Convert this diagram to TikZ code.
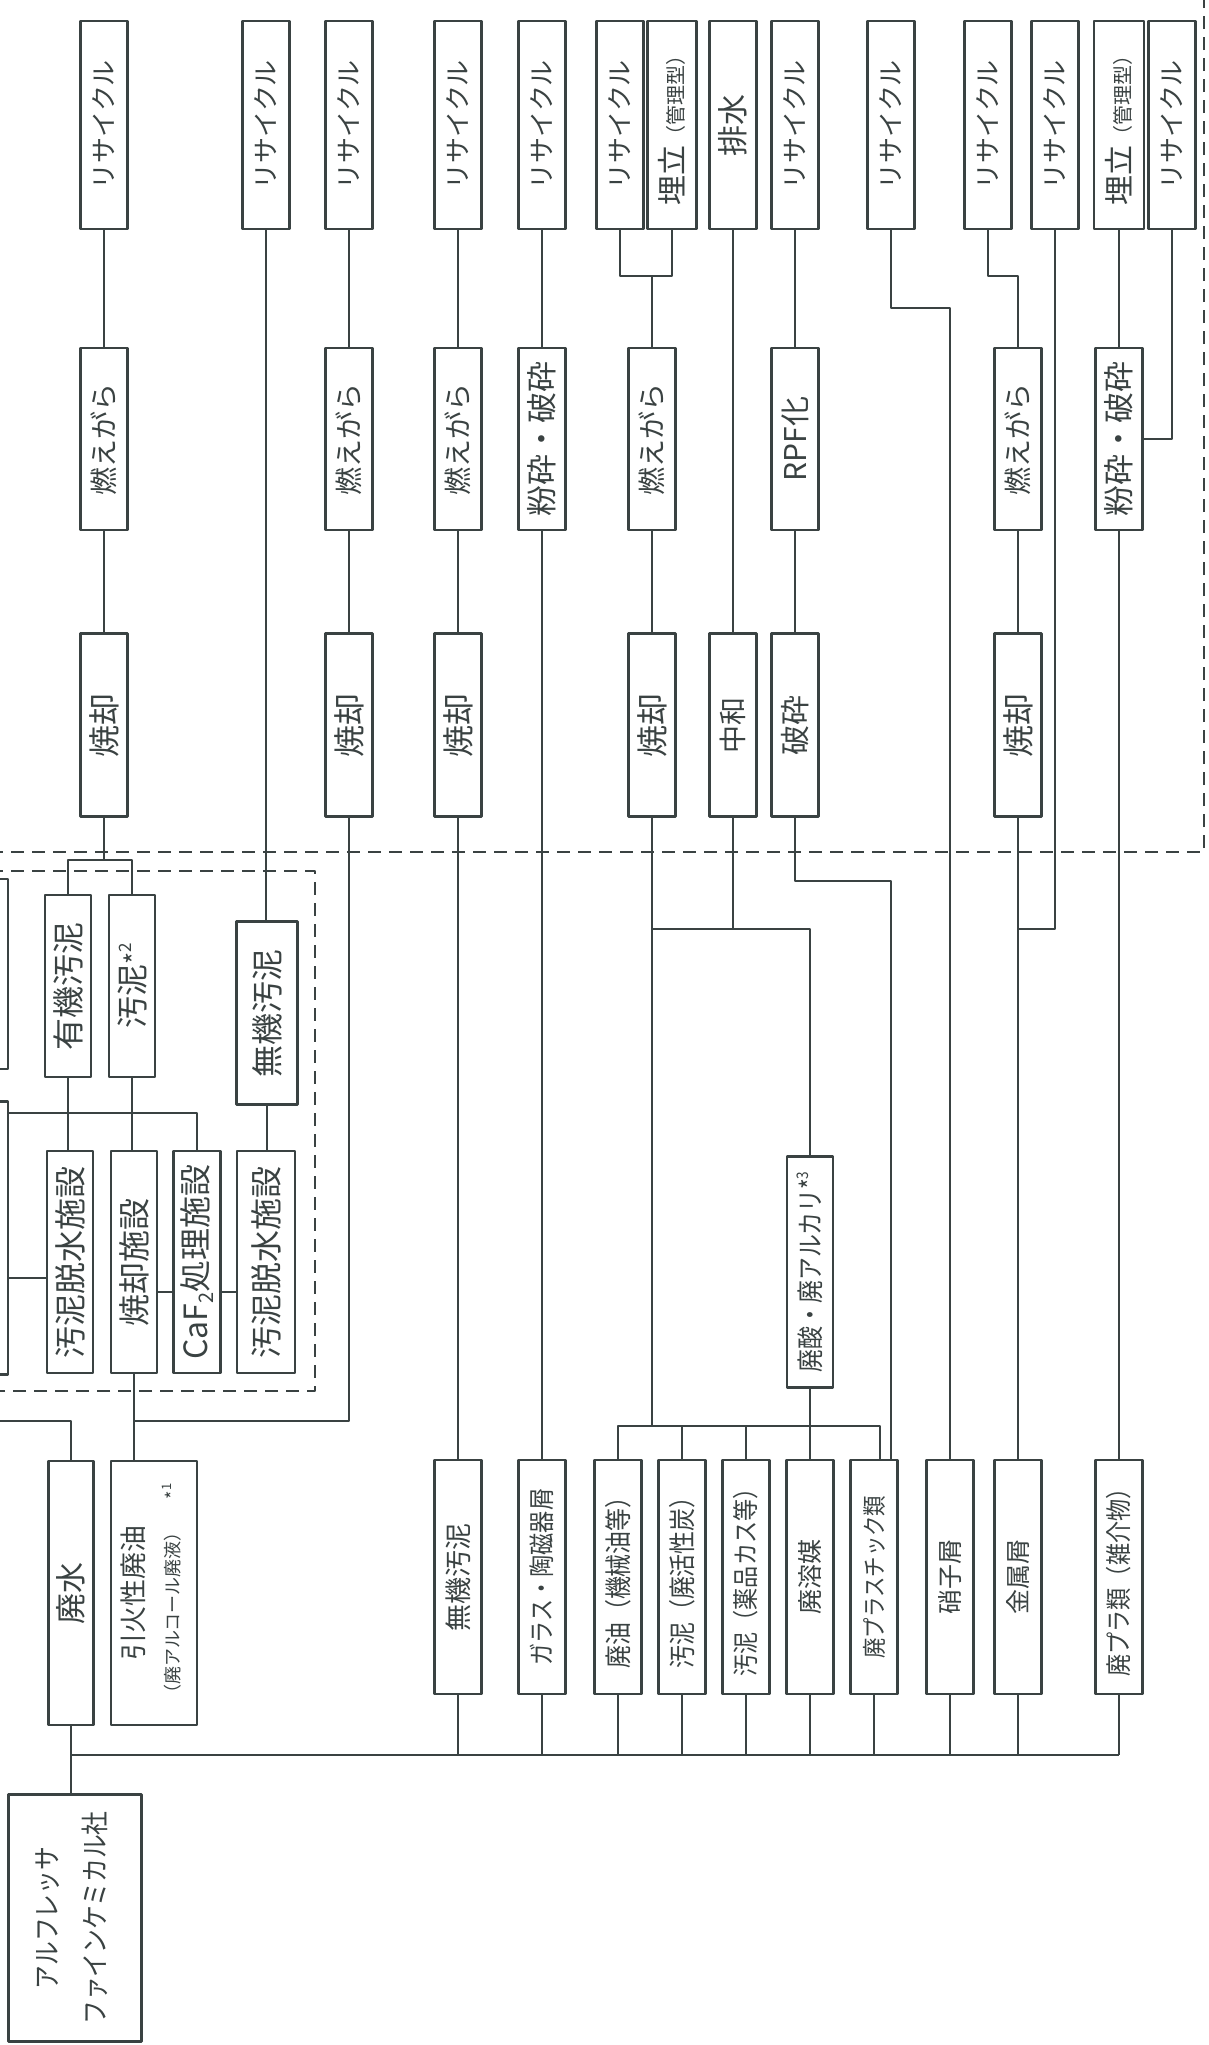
\documentclass[tikz,border=0pt]{standalone}
\usepackage{fontspec}
\setmainfont{Noto Sans CJK JP}
\newfontfamily\condjp[FakeStretch=0.85]{Noto Sans CJK JP}
\definecolor{ink}{RGB}{58,66,66}
\newcommand{\fsz}[1]{\fontsize{#1}{#1}\selectfont}
\newcommand{\vtxt}[1]{\rotatebox{90}{#1}}
\tikzset{
  box/.style={draw=ink, line width=2.5pt, fill=white, text=ink, inner sep=0pt, minimum width=47pt},
  rbox/.style={box, minimum height=208pt},
  mbox/.style={box, minimum height=182pt},
  sbox/.style={box, minimum height=183pt},
  ibox/.style={box, minimum height=222pt},
  lowbox/.style={box, minimum height=234pt},
  wire/.style={draw=ink, line width=2.2pt},
  dashline/.style={draw=ink, line width=2.3pt, dash pattern=on 13pt off 8pt},
}
\begin{document}
\begin{tikzpicture}[x=1pt, y=-1pt, line join=round]
  \fill[white] (0,0) rectangle (1208,2045);
  \useasboundingbox (0,0) rectangle (1208,2045);
  \clip (0,0) rectangle (1208,2045);

  % Dashed frames
  \draw[dashline] (-10,852) -- (1204,852) -- (1204,-10);
  \draw[dashline] (-10,871) -- (315,871) -- (315,1391) -- (-10,1391);

  % Top row
  \foreach \n/\x in {r1/104, r2/266, r3/349, r4/458, r5/542, r6/620, r8/795, r9/891, r10/988, r11/1055, r13/1172}
    \node[rbox] (\n) at (\x,125) {\vtxt{\fsz{26}リサイクル}};
  \node[rbox, minimum width=49pt] (ume6) at (672,125) {\vtxt{\fsz{30}埋立\fsz{20}（管理型）}};
  \node[rbox] (hai7) at (733,125) {\vtxt{\fsz{31}排水}};
  \node[rbox, minimum width=50pt] (ume12) at (1119,125) {\vtxt{\fsz{30}埋立\fsz{20}（管理型）}};

  % Second row
  \foreach \n/\x in {moe1/104, moe3/349, moe4/458, moe6/652, moe10/1018}
    \node[mbox] (\n) at (\x,439) {\vtxt{\fsz{28}燃えがら}};
  \node[mbox] (fun5) at (542,439) {\vtxt{\fsz{31}粉砕・破砕}};
  \node[mbox] (rpf8) at (795,439) {\vtxt{\fsz{30}RPF化}};
  \node[mbox] (fun12) at (1119,439) {\vtxt{\fsz{31}粉砕・破砕}};

  % Third row
  \foreach \n/\x in {sho1/104, sho3/349, sho4/458, sho6/652, sho10/1018}
    \node[sbox] (\n) at (\x,725) {\vtxt{\fsz{32}焼却}};
  \node[sbox] (chu7) at (733,725) {\vtxt{\fsz{28}中和}};
  \node[sbox] (ha8) at (795,725) {\vtxt{\fsz{30}破砕}};

  % Plant inside the dashed frame
  \node[box, minimum width=80pt, minimum height=190pt] (cutA) at (-32,974) {};
  \node[box, minimum width=80pt, minimum height=273pt] (cutB) at (-32,1238) {};
  \node[mbox, minimum width=46pt] (yuki) at (68,986) {\vtxt{\fsz{32}有機汚泥}};
  \node[mbox, minimum width=46pt] (odei2) at (132,986) {\vtxt{\fsz{32}汚泥\fsz{26}*\raisebox{0.5em}{\fsz{17}2}}};
  \node[sbox, minimum width=61pt] (muki2) at (267,1013) {\vtxt{\fsz{32}無機汚泥}};
  \node[ibox, minimum width=46pt] (dassui1) at (70,1262) {\vtxt{\fsz{32}汚泥脱水施設}};
  \node[ibox, minimum width=46pt] (inc) at (134,1262) {\vtxt{\fsz{32}焼却施設}};
  \node[ibox] (caf) at (197,1262) {\vtxt{\fsz{32}CaF\raisebox{-0.2em}{\fsz{20}2}処理施設}};
  \node[ibox, minimum width=58pt] (dassui2) at (266,1262) {\vtxt{\fsz{32}汚泥脱水施設}};

  % Waste acid
  \node[box, minimum width=46pt, minimum height=231pt] (haisan) at (810,1272)
    {\vtxt{\condjp\fsz{27}廃酸・廃アルカリ*\raisebox{0.45em}{\fsz{16}3}}};

  % Source side
  \node[box, minimum width=45pt, minimum height=264pt] (haisui) at (71,1593) {\vtxt{\fsz{31}廃水}};
  \node[box, minimum width=86pt, minimum height=264pt] (yuka) at (154,1593)
    {\vtxt{\fsz{27}\begin{tabular}{@{}c@{}}引火性廃油\\[9pt]\fsz{18}（廃アルコール廃液）\hspace{24pt}*\raisebox{0.45em}{\fsz{13}1}\end{tabular}}};
  \node[box, minimum width=133pt, minimum height=247pt] (alf) at (75,1918)
    {\vtxt{\condjp\fsz{28}\begin{tabular}{@{}c@{}}アルフレッサ\\[16pt]ファインケミカル社\end{tabular}}};

  % Bottom row
  \node[lowbox] (mukib) at (458,1577) {\vtxt{\fsz{27}無機汚泥}};
  \node[lowbox] (glass) at (542,1577) {\vtxt{\condjp\fsz{26}ガラス・陶磁器屑}};
  \node[lowbox] (haiyu) at (618,1577) {\vtxt{\condjp\fsz{27}廃油（機械油等）}};
  \node[lowbox] (odeik) at (682,1577) {\vtxt{\condjp\fsz{27}汚泥（廃活性炭）}};
  \node[lowbox] (odeiy) at (746,1577) {\vtxt{\condjp\fsz{26}汚泥（薬品カス等）}};
  \node[lowbox] (haiyo) at (810,1577) {\vtxt{\fsz{25}廃溶媒}};
  \node[lowbox] (plas) at (874,1577) {\vtxt{\condjp\fsz{24}廃プラスチック類}};
  \node[lowbox] (shoko) at (950,1577) {\vtxt{\fsz{25}硝子屑}};
  \node[lowbox] (kinz) at (1018,1577) {\vtxt{\fsz{25}金属屑}};
  \node[lowbox] (haipura) at (1119,1577) {\vtxt{\condjp\fsz{26}廃プラ類（雑介物）}};

  % Straight links
  \foreach \a/\b in {r1/moe1, moe1/sho1, r2/muki2, muki2/dassui2, r3/moe3, moe3/sho3,
      r4/moe4, moe4/sho4, sho4/mukib, r5/fun5, fun5/glass, moe6/sho6, hai7/chu7,
      r8/rpf8, rpf8/ha8, moe10/sho10, sho10/kinz, ume12/fun12, fun12/haipura,
      yuki/dassui1, odei2/inc, haisan/haiyo, inc/yuka, haisui/alf}
    \draw[wire] (\a.south) -- (\a.south |- \b.north);

  % Elbows and brackets
  \draw[wire] (r6.south) -- ++(0,46) -| (ume6.south);
  \draw[wire] (moe6.north) -- (moe6.north |- 0,275);
  \draw[wire] (r9.south) -- ++(0,78) -| (shoko.north);
  \draw[wire] (r10.south) -- ++(0,46) -| (moe10.north);
  \draw[wire] (r11.south) |- (sho10.south |- 0,929);
  \draw[wire] (r13.south) |- (fun12.east);
  \draw[wire] (sho1.south) -- (sho1.south |- 0,860);
  \draw[wire] (yuki.north) |- (odei2.north |- 0,860) -- (odei2.north);

  % Plant links
  \draw[wire] (cutB.east |- 0,1113) -| (caf.north);
  \draw[wire] (cutB.east |- 0,1278) -- (dassui1.west |- 0,1278);
  \draw[wire] (inc.east |- 0,1292) -- (caf.west |- 0,1292);
  \draw[wire] (caf.east |- 0,1292) -- (dassui2.west |- 0,1292);
  \draw[wire] (sho3.south) |- (inc.south |- 0,1421);
  \coordinate (lin) at (-5,1421);
  \draw[wire] (lin) -| (haisui.north);

  % Incineration, neutralisation, crushing
  \coordinate (pa) at ([xshift=6pt]plas.north);
  \coordinate (pb) at ([xshift=17pt]plas.north);
  \draw[wire] (sho6.south) -- (sho6.south |- 0,1426);
  \draw[wire] (sho6.south |- 0,929) -| (haisan.north);
  \draw[wire] (chu7.south) -- (chu7.south |- 0,929);
  \draw[wire] (ha8.south) -- ++(0,63) -| (pb);
  \draw[wire] (haiyu.north) |- (pa |- 0,1426) -- (pa);
  \foreach \n in {odeik, odeiy}
    \draw[wire] (\n.north) -- (\n.north |- 0,1426);

  % Trunk
  \draw[wire] (haisui.south |- 0,1755) -- (haipura.south |- 0,1755);
  \foreach \n in {mukib, glass, haiyu, odeik, odeiy, haiyo, plas, shoko, kinz, haipura}
    \draw[wire] (\n.south) -- (\n.south |- 0,1755);
\end{tikzpicture}
\end{document}
